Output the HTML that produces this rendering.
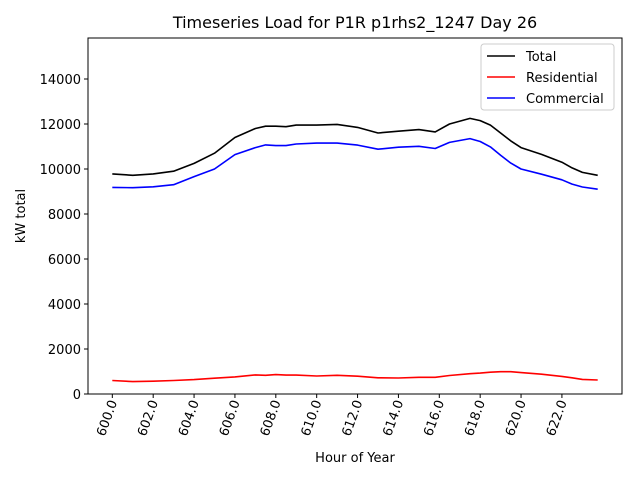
<!DOCTYPE html>
<html><head><meta charset="utf-8"><style>body{margin:0;background:#fff}svg{display:block;font-family:"DejaVu Sans","Liberation Sans",sans-serif}</style></head>
<body>
<svg id="chart" width="640" height="480"></svg>
<script>
const hours=[600,601,602,603,604,605,606,607,607.5,608,608.5,609,610,611,612,613,614,615,615.8,616.5,617.5,618,618.5,619,619.5,620,621,622,622.5,623,623.75];
const totalVals=[9780,9720,9780,9900,10250,10700,11400,11800,11900,11900,11880,11950,11950,11980,11850,11600,11680,11750,11650,12000,12250,12150,11950,11600,11250,10950,10650,10300,10050,9850,9720];
const resVals=[600,550,570,600,640,700,760,850,830,860,840,840,800,830,790,720,710,740,740,820,900,930,970,990,990,950,880,780,720,650,620];
const comVals=[9180,9170,9210,9300,9660,10000,10640,10950,11070,11040,11040,11110,11150,11150,11060,10880,10970,11010,10910,11180,11350,11220,10980,10610,10260,10000,9770,9520,9330,9200,9100];
const xTicks=[600,602,604,606,608,610,612,614,616,618,620,622];
const yTicks=[0,2000,4000,6000,8000,10000,12000,14000];
const L=88,R=622,T=38,B=394;
const xmin=598.81,xmax=624.94,ymin=0,ymax=15822;
const sx=v=>L+(v-xmin)/(xmax-xmin)*(R-L);
const sy=v=>B-(v-ymin)/(ymax-ymin)*(B-T);
const svg=document.getElementById('chart');
const NS='http://www.w3.org/2000/svg';
function mk(tag,attrs,parent){const e=document.createElementNS(NS,tag);for(const k in attrs)e.setAttribute(k,attrs[k]);(parent||svg).appendChild(e);return e;}
function txt(s,attrs){const e=mk('text',attrs);e.textContent=s;return e;}
let e;
e=mk('rect',{x:L,y:T,width:R-L,height:B-T,fill:'#fff',stroke:'#000','stroke-width':1});


function series(vals,color,name){
  const d=hours.map((h,i)=>(i?'L':'M')+sx(h).toFixed(1)+','+sy(vals[i]).toFixed(1)).join(' ');
  const p=mk('path',{d:d,fill:'none',stroke:color,'stroke-width':1.6,'stroke-linejoin':'round'});
  
  
}
series(totalVals,'#000','total-line');
series(resVals,'#f00','residential-line');
series(comVals,'#00f','commercial-line');
xTicks.forEach(t=>{
  const x=sx(t);
  mk('line',{x1:x,x2:x,y1:B,y2:B+4,stroke:'#000'});
  const l=txt(t.toFixed(1),{x:0,y:0,'font-size':13,'text-anchor':'end',transform:`translate(${x+5},${B+8}) rotate(-70)`});
  
  
});
yTicks.forEach(t=>{
  const y=sy(t);
  mk('line',{x1:L-4,x2:L,y1:y,y2:y,stroke:'#000'});
  const l=txt(String(t),{x:L-7,y:y+5,'font-size':13,'text-anchor':'end'});
  
  
});
e=txt('Timeseries Load for P1R p1rhs2_1247  Day 26',{x:(L+R)/2,y:28,'font-size':16,'text-anchor':'middle'});


e=txt('Hour of Year',{x:(L+R)/2,y:462,'font-size':13,'text-anchor':'middle'});


e=txt('kW total',{x:0,y:0,'font-size':13,'text-anchor':'middle',transform:`translate(25,${(T+B)/2}) rotate(-90)`});


const lg=mk('g',{});


mk('rect',{x:481,y:44,width:133,height:66,rx:3,fill:'#fff',stroke:'#ccc'},lg);
[['Total','#000'],['Residential','#f00'],['Commercial','#00f']].forEach((it,i)=>{
  const y=56+i*21;
  const ln=mk('line',{x1:487,x2:515,y1:y,y2:y,stroke:it[1],'stroke-width':1.6},lg);
  
  
  const t=mk('text',{x:526,y:y+5,'font-size':13},lg);t.textContent=it[0];
  
  
});
</script>
</body></html>
